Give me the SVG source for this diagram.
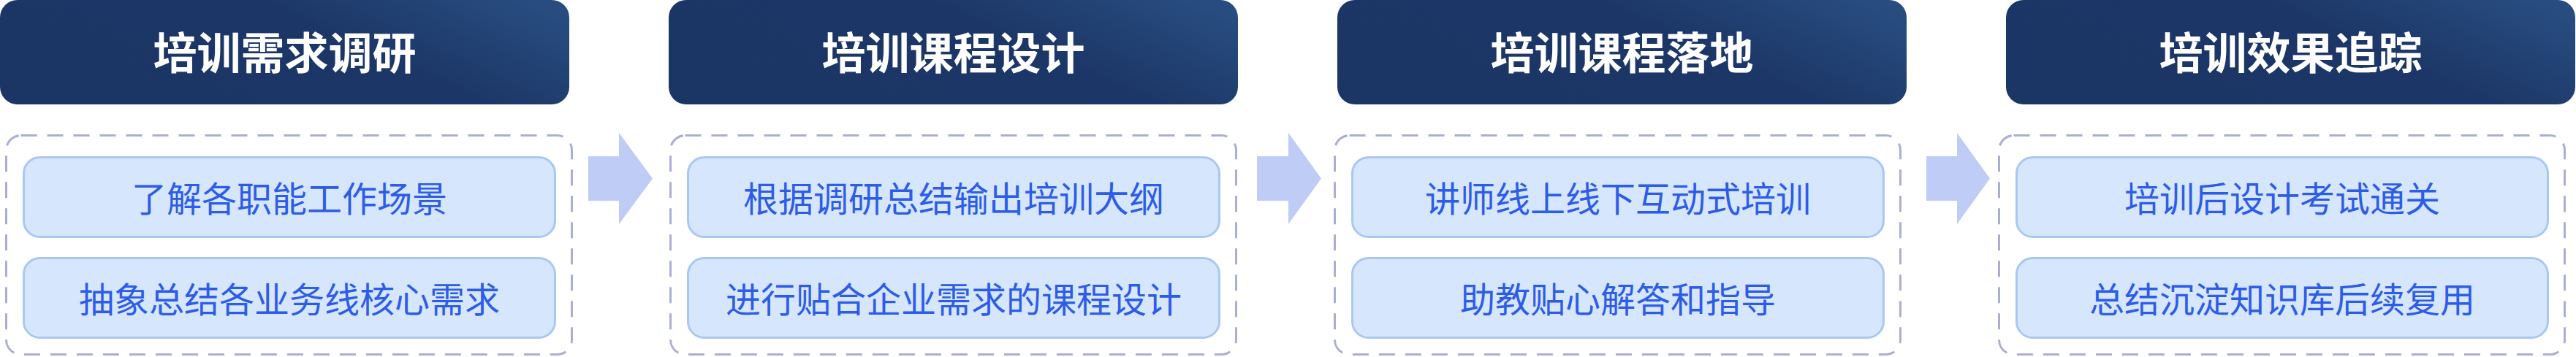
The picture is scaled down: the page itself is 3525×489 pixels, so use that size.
<svg xmlns="http://www.w3.org/2000/svg" width="3525" height="489" viewBox="0 0 3525 489">
<defs>
<linearGradient id="hg" x1="0" y1="0.6" x2="1" y2="0.2">
<stop offset="0" stop-color="#1b3665"/>
<stop offset="0.6" stop-color="#1c3767"/>
<stop offset="1" stop-color="#284c80"/>
</linearGradient>
<style>
.hdr{fill:url(#hg);}
.ht{fill:#ffffff;font-family:"Noto Sans CJK SC","Noto Sans",sans-serif;font-size:60px;font-weight:700;text-anchor:middle;}
.dash{fill:none;stroke:#aaaed4;stroke-width:3;stroke-dasharray:22 14;}
.item{fill:#d6e6fd;stroke:#a9c8f1;stroke-width:3;}
.it{fill:#2d5ce6;font-family:"Noto Sans CJK SC","Noto Sans",sans-serif;font-size:48px;text-anchor:middle;}
.arr{fill:#bfcdf6;}
</style>
</defs>
<g id="connectors">
<polygon class="arr" points="805,214 847,214 847,182 893,244.5 847,307 847,275 805,275"/>
<polygon class="arr" points="1720,214 1763,214 1763,182 1808,244.5 1763,307 1763,275 1720,275"/>
<polygon class="arr" points="2636,214 2678,214 2678,182 2723,244.5 2678,307 2678,275 2636,275"/>
</g>
<g id="stage1">
<rect class="hdr" x="0" y="0" width="779" height="143" rx="24"/>
<text class="ht" x="389.5" y="95">培训需求调研</text>
<rect class="dash" x="8.5" y="185.5" width="774" height="300" rx="20"/>
<g id="stage1-item1"><rect class="item" x="32.5" y="215.5" width="727" height="109" rx="22"/><text class="it" x="396" y="290">了解各职能工作场景</text></g>
<g id="stage1-item2"><rect class="item" x="32.5" y="353.5" width="727" height="109" rx="22"/><text class="it" x="396" y="428">抽象总结各业务线核心需求</text></g>
</g>
<g id="stage2">
<rect class="hdr" x="915" y="0" width="779" height="143" rx="24"/>
<text class="ht" x="1304.5" y="95">培训课程设计</text>
<rect class="dash" x="917.5" y="185.5" width="774" height="300" rx="20"/>
<g id="stage2-item1"><rect class="item" x="941.5" y="215.5" width="727" height="109" rx="22"/><text class="it" x="1305" y="290">根据调研总结输出培训大纲</text></g>
<g id="stage2-item2"><rect class="item" x="941.5" y="353.5" width="727" height="109" rx="22"/><text class="it" x="1305" y="428">进行贴合企业需求的课程设计</text></g>
</g>
<g id="stage3">
<rect class="hdr" x="1830" y="0" width="779" height="143" rx="24"/>
<text class="ht" x="2219.5" y="95">培训课程落地</text>
<rect class="dash" x="1826.5" y="185.5" width="774" height="300" rx="20"/>
<g id="stage3-item1"><rect class="item" x="1850.5" y="215.5" width="727" height="109" rx="22"/><text class="it" x="2214" y="290">讲师线上线下互动式培训</text></g>
<g id="stage3-item2"><rect class="item" x="1850.5" y="353.5" width="727" height="109" rx="22"/><text class="it" x="2214" y="428">助教贴心解答和指导</text></g>
</g>
<g id="stage4">
<rect class="hdr" x="2745" y="0" width="779" height="143" rx="24"/>
<text class="ht" x="3134.5" y="95">培训效果追踪</text>
<rect class="dash" x="2735.5" y="185.5" width="774" height="300" rx="20"/>
<g id="stage4-item1"><rect class="item" x="2759.5" y="215.5" width="727" height="109" rx="22"/><text class="it" x="3123" y="290">培训后设计考试通关</text></g>
<g id="stage4-item2"><rect class="item" x="2759.5" y="353.5" width="727" height="109" rx="22"/><text class="it" x="3123" y="428">总结沉淀知识库后续复用</text></g>
</g>
</svg>
